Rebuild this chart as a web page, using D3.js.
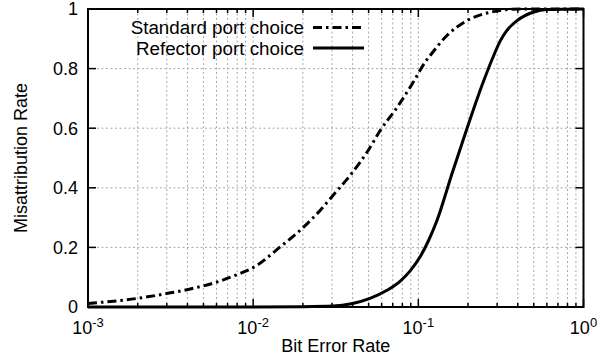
<!DOCTYPE html>
<html>
<head>
<meta charset="utf-8">
<script src="https://cdn.jsdelivr.net/npm/d3@7"></script>
<style>
  html, body { margin: 0; padding: 0; background: #fff; }
  text { font-family: "Liberation Sans", Arial, Helvetica, sans-serif; }
</style>
</head>
<body>
<svg id="chart" width="610" height="360"></svg>
<script>
// ---- data ----
const xTickExponents = [-3, -2, -1, 0];
const yTicks = [0, 0.2, 0.4, 0.6, 0.8, 1];
const yTickLabels = ["0", "0.2", "0.4", "0.6", "0.8", "1"];
const seriesNames = ["Standard port choice", "Refector port choice"];

const standardBER = [0.001, 0.002, 0.00305, 0.00404, 0.00614, 0.0081, 0.0102, 0.0146, 0.0193, 0.0255, 0.0305, 0.0387, 0.049, 0.0589, 0.0746, 0.0933, 0.110, 0.118, 0.149, 0.197, 0.273, 0.415, 1.0];
const standardMis = [0.012, 0.029, 0.046, 0.059, 0.085, 0.11, 0.135, 0.202, 0.258, 0.325, 0.375, 0.442, 0.52, 0.593, 0.671, 0.755, 0.822, 0.844, 0.911, 0.961, 0.989, 1.0, 1.0];

const refectorBER = [0.001, 0.01, 0.02, 0.0305, 0.040, 0.051, 0.0646, 0.0778, 0.0895, 0.103, 0.1155, 0.13, 0.16, 0.197, 0.243, 0.286, 0.314, 0.344, 0.396, 0.5, 0.6, 1.0];
const refectorMis = [0, 0.0003, 0.001, 0.003, 0.012, 0.029, 0.056, 0.087, 0.122, 0.17, 0.224, 0.292, 0.448, 0.599, 0.744, 0.844, 0.894, 0.928, 0.961, 0.99, 0.998, 1.0];

// ---- layout ----
const W = 610, H = 360;
const m = { left: 88, right: 26.5, top: 9, bottom: 53 };
const iw = W - m.left - m.right, ih = H - m.top - m.bottom;

const svg = d3.select("#chart");
const g = svg.append("g").attr("transform", `translate(${m.left},${m.top})`);

const x = d3.scaleLog().domain([1e-3, 1]).range([0, iw]);
const y = d3.scaleLinear().domain([0, 1]).range([ih, 0]);

// minor / major x positions
const majorX = xTickExponents.map(e => Math.pow(10, e));
const minorX = [];
for (let e = -3; e < 0; e++) for (let k = 2; k <= 9; k++) minorX.push(k * Math.pow(10, e));

// ---- grid ----
const gridStyle = sel => sel.attr("stroke", "#a8a8a8").attr("stroke-width", 1).attr("stroke-dasharray", "2,2.5");
g.append("g").selectAll("line").data(minorX.concat(majorX.slice(1, -1))).join("line")
  .attr("x1", d => x(d)).attr("x2", d => x(d)).attr("y1", 0).attr("y2", ih).call(gridStyle);
g.append("g").selectAll("line").data(yTicks.slice(1, -1)).join("line")
  .attr("x1", 0).attr("x2", iw).attr("y1", d => y(d)).attr("y2", d => y(d)).call(gridStyle);

// ---- ticks (inward, mirrored) ----
const tk = g.append("g").attr("stroke", "#000").attr("stroke-width", 1.5);
const majLen = 8, minLen = 4;
majorX.forEach(d => {
  tk.append("line").attr("x1", x(d)).attr("x2", x(d)).attr("y1", ih).attr("y2", ih - majLen);
  tk.append("line").attr("x1", x(d)).attr("x2", x(d)).attr("y1", 0).attr("y2", majLen);
});
minorX.forEach(d => {
  tk.append("line").attr("x1", x(d)).attr("x2", x(d)).attr("y1", ih).attr("y2", ih - minLen);
  tk.append("line").attr("x1", x(d)).attr("x2", x(d)).attr("y1", 0).attr("y2", minLen);
});
yTicks.forEach(d => {
  tk.append("line").attr("x1", 0).attr("x2", majLen).attr("y1", y(d)).attr("y2", y(d));
  tk.append("line").attr("x1", iw).attr("x2", iw - majLen).attr("y1", y(d)).attr("y2", y(d));
});

// ---- tick labels ----
const fs = 18;
g.append("g").selectAll("text").data(yTicks).join("text")
  .attr("x", -10).attr("y", d => y(d)).attr("dy", "0.36em")
  .attr("text-anchor", "end").attr("font-size", fs)
  .text((d, i) => yTickLabels[i]);

const xl = g.append("g").selectAll("text").data(xTickExponents).join("text")
  .attr("x", d => x(Math.pow(10, d))).attr("y", ih + 27)
  .attr("text-anchor", "middle").attr("font-size", fs);
xl.append("tspan").text("10");
xl.append("tspan").attr("dy", -7).attr("font-size", 13).text(d => d === 0 ? "0" : String(d));

// ---- axis titles ----
svg.append("text").attr("x", m.left + iw / 2).attr("y", 352)
  .attr("text-anchor", "middle").attr("font-size", fs).text("Bit Error Rate");
svg.append("text").attr("transform", `translate(27,${m.top + ih / 2}) rotate(-90)`)
  .attr("text-anchor", "middle").attr("font-size", fs).text("Misattribution Rate");

// ---- curves ----
const line = d3.line().x(d => x(d[0])).y(d => y(d[1])).curve(d3.curveMonotoneX);
const stdData = standardBER.map((b, i) => [b, standardMis[i]]);
const refData = refectorBER.map((b, i) => [b, refectorMis[i]]);
const dashStd = "9,4,2.5,4";

g.append("path").datum(stdData).attr("d", line)
  .attr("fill", "none").attr("stroke", "#000").attr("stroke-width", 3)
  .attr("stroke-dasharray", dashStd);
g.append("path").datum(refData).attr("d", line)
  .attr("fill", "none").attr("stroke", "#000").attr("stroke-width", 3);

// ---- frame ----
g.append("rect").attr("x", 0).attr("y", 0).attr("width", iw).attr("height", ih)
  .attr("fill", "none").attr("stroke", "#000").attr("stroke-width", 2);

// ---- legend ----
const legRows = [27.5, 48];
seriesNames.forEach((name, i) => {
  svg.append("text").attr("x", 304).attr("y", legRows[i]).attr("dy", "0.36em")
    .attr("text-anchor", "end").attr("font-size", 18.8).text(name);
  const l = svg.append("line").attr("x1", 313).attr("x2", 364)
    .attr("y1", legRows[i]).attr("y2", legRows[i])
    .attr("stroke", "#000").attr("stroke-width", 3);
  if (i === 0) l.attr("stroke-dasharray", dashStd);
});
</script>
</body>
</html>
